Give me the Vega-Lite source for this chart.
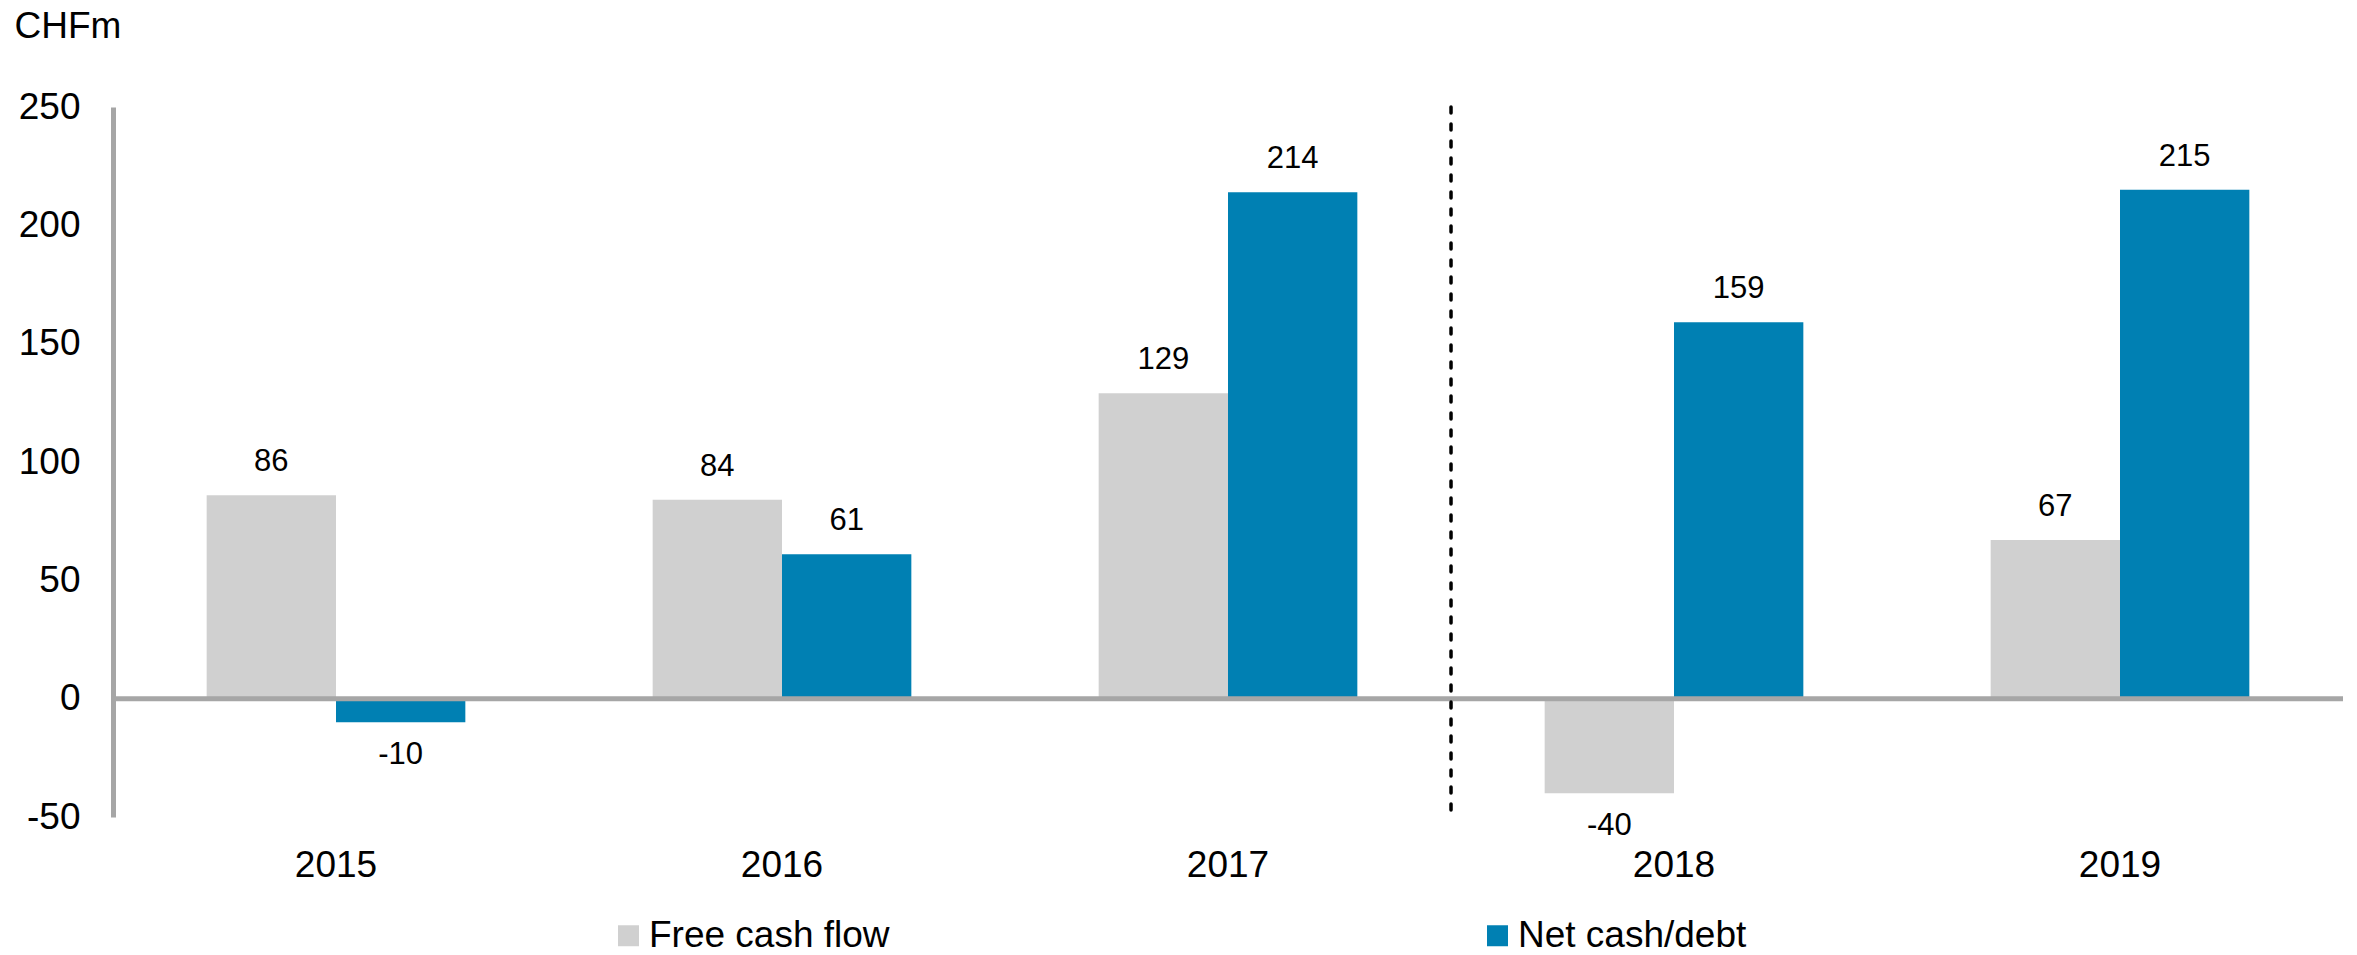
{
  "$schema": "https://vega.github.io/schema/vega-lite/v6.json",
  "width": 2230,
  "height": 710,
  "autosize": {"type": "none"},
  "padding": {"left": 113, "top": 107, "right": 14, "bottom": 138},
  "background": "white",
  "config": {
    "view": {"stroke": null},
    "font": "Liberation Sans",
    "axis": {"labelFont": "Liberation Sans", "titleFont": "Liberation Sans", "labelColor": "#000000", "titleColor": "#000000"},
    "legend": {"labelFont": "Liberation Sans"}
  },
  "data": {
    "values": [
      {"year": "2015", "series": "Free cash flow", "value": 86},
      {"year": "2015", "series": "Net cash/debt", "value": -10},
      {"year": "2016", "series": "Free cash flow", "value": 84},
      {"year": "2016", "series": "Net cash/debt", "value": 61},
      {"year": "2017", "series": "Free cash flow", "value": 129},
      {"year": "2017", "series": "Net cash/debt", "value": 214},
      {"year": "2018", "series": "Free cash flow", "value": -40},
      {"year": "2018", "series": "Net cash/debt", "value": 159},
      {"year": "2019", "series": "Free cash flow", "value": 67},
      {"year": "2019", "series": "Net cash/debt", "value": 215}
    ]
  },
  "encoding": {
    "x": {
      "field": "year", "type": "nominal",
      "scale": {"paddingInner": 0.42, "paddingOuter": 0.21},
      "axis": {"title": null, "domain": false, "ticks": false, "tickSize": 0, "labelAngle": 0, "labelFontSize": 37, "labelPadding": 30}
    }
  },
  "layer": [
    {
      "mark": {"type": "bar", "cornerRadius": 0},
      "encoding": {
        "xOffset": {"field": "series", "type": "nominal", "scale": {"paddingInner": 0, "paddingOuter": 0}},
        "y": {
          "field": "value", "type": "quantitative",
          "scale": {"domain": [-50, 250], "nice": false, "zero": false},
          "axis": {
            "values": [-50, 0, 50, 100, 150, 200, 250],
            "labelExpr": "'' + datum.value",
            "grid": false, "ticks": false, "tickSize": 0,
            "domain": true, "domainColor": "#a6a6a6", "domainWidth": 5,
            "labelFontSize": 37, "labelPadding": 33,
            "title": "CHFm", "titleAngle": 0, "titleFontSize": 37, "titleFontWeight": "normal",
            "titleAlign": "left", "titleBaseline": "alphabetic", "titleX": -99, "titleY": -70
          }
        },
        "color": {
          "field": "series", "type": "nominal",
          "scale": {"domain": ["Free cash flow", "Net cash/debt"], "range": ["#D0D0D0", "#0080B3"]},
          "legend": {
            "title": null, "orient": "none", "direction": "horizontal",
            "legendX": 497, "legendY": 810, "padding": 0,
            "symbolType": "square", "symbolSize": 441, "symbolStrokeWidth": 0,
            "labelFontSize": 37, "labelOffset": 2, "columnPadding": 589, "labelLimit": 600
          }
        }
      }
    },
    {
      "transform": [{"filter": "datum.value >= 0"}],
      "mark": {"type": "text", "fontSize": 31, "baseline": "middle", "dy": -33, "color": "#000000"},
      "encoding": {
        "xOffset": {"field": "series", "type": "nominal"},
        "y": {"field": "value", "type": "quantitative"},
        "text": {"field": "value", "type": "nominal"}
      }
    },
    {
      "transform": [{"filter": "datum.value < 0"}],
      "mark": {"type": "text", "fontSize": 31, "baseline": "middle", "dy": 33, "color": "#000000"},
      "encoding": {
        "xOffset": {"field": "series", "type": "nominal"},
        "y": {"field": "value", "type": "quantitative"},
        "text": {"field": "value", "type": "nominal"}
      }
    },
    {
      "data": {"values": [{"zero": 0}]},
      "mark": {"type": "rule", "color": "#a6a6a6", "strokeWidth": 5},
      "encoding": {"y": {"field": "zero", "type": "quantitative"}, "x": null}
    },
    {
      "data": {"values": [{"year": "2018"}]},
      "mark": {"type": "rule", "color": "#000000", "strokeWidth": 3.5, "strokeDash": [6, 11], "strokeCap": "round"},
      "encoding": {"x": {"field": "year", "type": "nominal", "bandPosition": -0.362}}
    }
  ]
}
